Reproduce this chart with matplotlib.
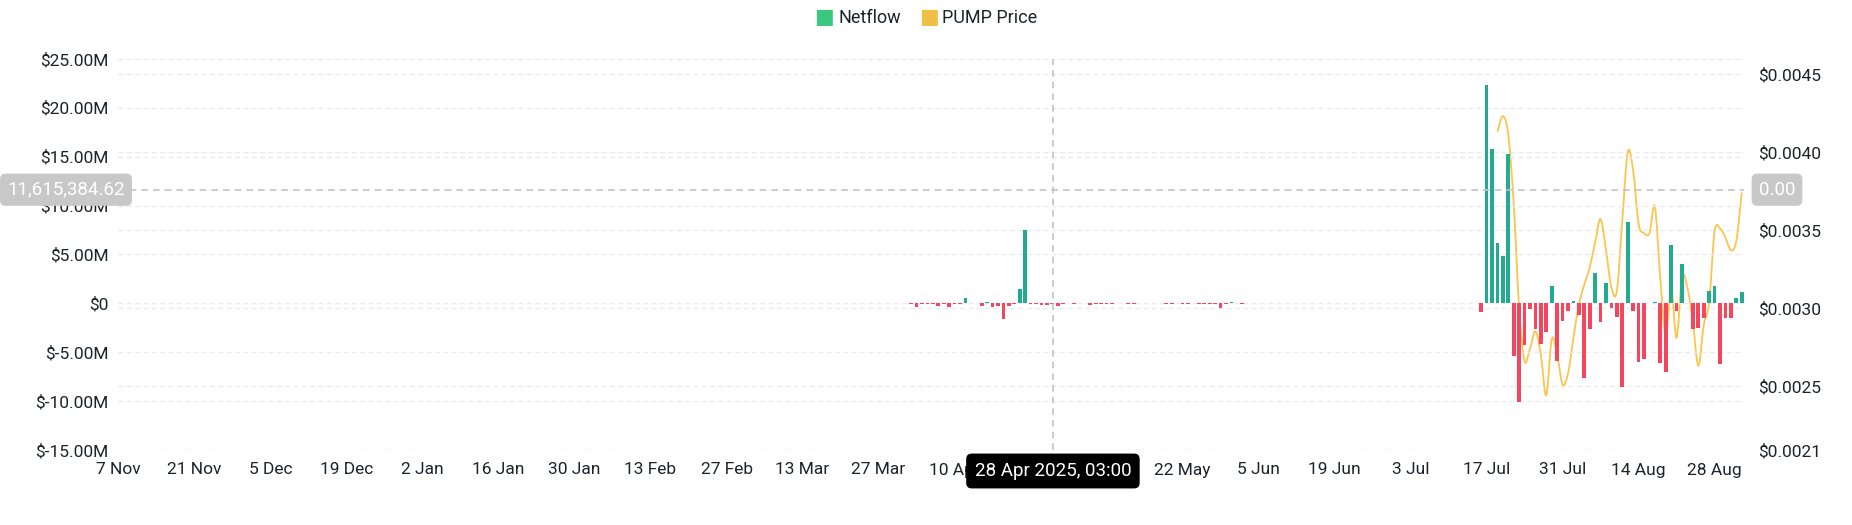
import numpy as np
import pandas as pd
import matplotlib.pyplot as plt
import matplotlib.dates as mdates
from matplotlib.path import Path
from matplotlib.patches import PathPatch

plt.rcParams['font.family'] = ['Roboto', 'DejaVu Sans']

# netflow, USD millions, daily
flow_apr_start = '2025-04-02'
flow_apr = [-0.12, -0.4, -0.12, -0.08, -0.08, -0.3, -0.08, -0.37, -0.12, -0.08,
            0.5, 0.03, 0.03, -0.24, 0.14, -0.37, -0.27, -1.6, -0.27, -0.03,
            1.46, 7.45, -0.12, -0.1, -0.15, -0.15, -0.1, -0.27, -0.12, -0.02,
            -0.08, 0, 0, -0.17, -0.12, -0.08, -0.08, -0.08, 0.02, 0.02,
            -0.1, -0.1, 0, 0.05, 0, 0.08, 0, -0.12, -0.05, 0,
            -0.04, -0.04, 0, -0.04, -0.04, -0.04, -0.04, -0.5, -0.1, 0.14,
            0.03, -0.05]
flow_jul_start = '2025-07-16'
flow_jul = [-0.85, 22.3, 15.8, 6.2, 4.8, 15.3, -5.4, -10.1, -4.3, -0.6,
            -2.6, -4.2, -2.9, 1.8, -5.9, -1.8,
            -0.75, 0.24, -1.2, -7.6, -2.6, 3.1, -1.9, 2.1, -0.5, -1.36,
            -8.6, 8.35, -0.8, -6.0, -5.7, 0.05, 0.14, -6.1, -7.0, 6.0,
            -0.75, 4.0, 0.03, -2.65, -2.5, -1.5, 1.3, 1.73, -6.2, -1.5,
            -1.5, 0.54, 1.15]

# PUMP price, daily from 19 Jul
price_start = '2025-07-19'
price = [0.00413, 0.00423, 0.00411, 0.00367, 0.00300, 0.00266, 0.00274, 0.00285,
         0.00270, 0.00244, 0.00280, 0.00270, 0.00251,
         0.00258, 0.00281, 0.00302, 0.00315, 0.00326, 0.00342, 0.00357, 0.00337,
         0.00313, 0.00311, 0.00356, 0.00400, 0.00388, 0.00354, 0.00348, 0.00348,
         0.00365, 0.00319, 0.00282, 0.00313, 0.00281, 0.00320, 0.00313, 0.00291,
         0.00263, 0.00289, 0.00304, 0.00349, 0.00351, 0.00345, 0.00337,
         0.00343, 0.00374]

left_ticks = [-15, -10, -5, 0, 5, 10, 15, 20, 25]
right_ticks = [0.00209, 0.0025, 0.0030, 0.0035, 0.0040, 0.0045]
right_labels = ['$0.0021', '$0.0025', '$0.0030', '$0.0035', '$0.0040', '$0.0045']
cross_date = '2025-04-28 03:00'
cross_value = 11615384.62

GREEN = '#22ab8f'
RED = '#f6465d'
YELLOW = '#fbc54e'
GRID = '#ebebeb'
TXT = '#1e2329'

flow = pd.concat([
    pd.Series(flow_apr, index=pd.date_range(flow_apr_start, periods=len(flow_apr))),
    pd.Series(flow_jul, index=pd.date_range(flow_jul_start, periods=len(flow_jul))),
]) * 1e6
px = pd.Series(price, index=pd.date_range(price_start, periods=len(price)))

fig = plt.figure(figsize=(18.52, 5.25), dpi=100)
ax = fig.add_axes([118 / 1852, 75 / 525, 1626 / 1852, 391.2 / 525])
ax2 = ax.twinx()

for s in list(ax.spines.values()) + list(ax2.spines.values()):
    s.set_visible(False)

ax.set_ylim(-15e6, 25e6)
ax2.set_ylim(0.00209, 0.004597)
ax.set_xlim(mdates.date2num(pd.Timestamp('2024-11-06 22:00')),
            mdates.date2num(pd.Timestamp('2025-09-02 10:00')))

# grids (both axes, dashed)
for v in left_ticks:
    ax.axhline(v * 1e6, color=GRID, lw=1, dashes=(3.5, 2.5), zorder=0)
for v in right_ticks:
    ax2.axhline(v, color=GRID, lw=1, dashes=(3.5, 2.5), zorder=0)

xd = mdates.date2num(flow.index)
colors = [GREEN if v >= 0 else RED for v in flow.values]
ax.bar(xd, flow.values, width=0.68, color=colors, zorder=2)

# smooth price curve (catmull-rom -> bezier)
x = mdates.date2num(px.index)
y = px.values
pts = np.column_stack([x, y])
verts = [pts[0]]
codes = [Path.MOVETO]
n = len(pts)
for i in range(n - 1):
    p0 = pts[max(i - 1, 0)]
    p1 = pts[i]
    p2 = pts[i + 1]
    p3 = pts[min(i + 2, n - 1)]
    verts += [p1 + (p2 - p0) / 6, p2 - (p3 - p1) / 6, p2]
    codes += [Path.CURVE4] * 3
ax2.add_patch(PathPatch(Path(verts, codes), fill=False, edgecolor=YELLOW, lw=1.3, zorder=3))
ax.set_zorder(ax2.get_zorder() + 1)
ax.patch.set_visible(False)

# ticks
ax.set_yticks([v * 1e6 for v in left_ticks])
ax.set_yticklabels(['$0' if v == 0 else '$%.2fM' % v for v in left_ticks])
ax2.set_yticks(right_ticks)
ax2.set_yticklabels(right_labels)
xt = pd.date_range('2024-11-07', '2025-08-28', freq='14D')
ax.set_xticks(mdates.date2num(xt))
ax.set_xticklabels([f'{d.day} {d.strftime("%b")}' for d in xt])
ax.tick_params(axis='y', length=0, pad=7, labelsize=12.5, labelcolor=TXT)
ax2.tick_params(axis='y', length=0, pad=10, labelsize=12.5, labelcolor=TXT)
ax.tick_params(axis='x', length=0, pad=9, labelsize=12.5, labelcolor=TXT)

# crosshair
cx = mdates.date2num(pd.Timestamp(cross_date))
ax.axvline(cx, color='#c4c4c4', lw=1.2, dashes=(4, 3), zorder=4)
ax.axhline(cross_value, color='#c4c4c4', lw=1.2, dashes=(4, 3), zorder=4)
box = dict(boxstyle='round,pad=0.38,rounding_size=0.3', fc='#c8c8c8', ec='none')
ax.annotate('11,615,384.62', xy=(0, cross_value), xycoords=('figure pixels', 'data'),
            xytext=(66, 0), textcoords='offset pixels', ha='center', va='center',
            fontsize=13.5, color='white', bbox=box, annotation_clip=False, zorder=10)
ax.annotate('0.00', xy=(1, cross_value), xycoords=('axes fraction', 'data'),
            xytext=(33, 0), textcoords='offset pixels', ha='center', va='center',
            fontsize=13.5, color='white', bbox=box, annotation_clip=False, zorder=10)
ax.annotate('28 Apr 2025, 03:00', xy=(cx, 0), xycoords=('data', 'axes fraction'),
            xytext=(0, -21), textcoords='offset pixels', ha='center', va='center',
            fontsize=13.5, color='white',
            bbox=dict(boxstyle='round,pad=0.45,rounding_size=0.3', fc='black', ec='none'),
            annotation_clip=False, zorder=10)

# legend
fig.text(814 / 1852, 1 - 17.7 / 525, '\u25A0', color='#3cc77e', fontsize=15, va='center', ha='left')
fig.text(838 / 1852, 1 - 17.7 / 525, 'Netflow', color=TXT, fontsize=13, va='center', ha='left')
fig.text(919 / 1852, 1 - 17.7 / 525, '\u25A0', color='#f0bf48', fontsize=15, va='center', ha='left')
fig.text(942 / 1852, 1 - 17.7 / 525, 'PUMP Price', color=TXT, fontsize=13, va='center', ha='left')

fig.savefig('out.png', dpi=100)
